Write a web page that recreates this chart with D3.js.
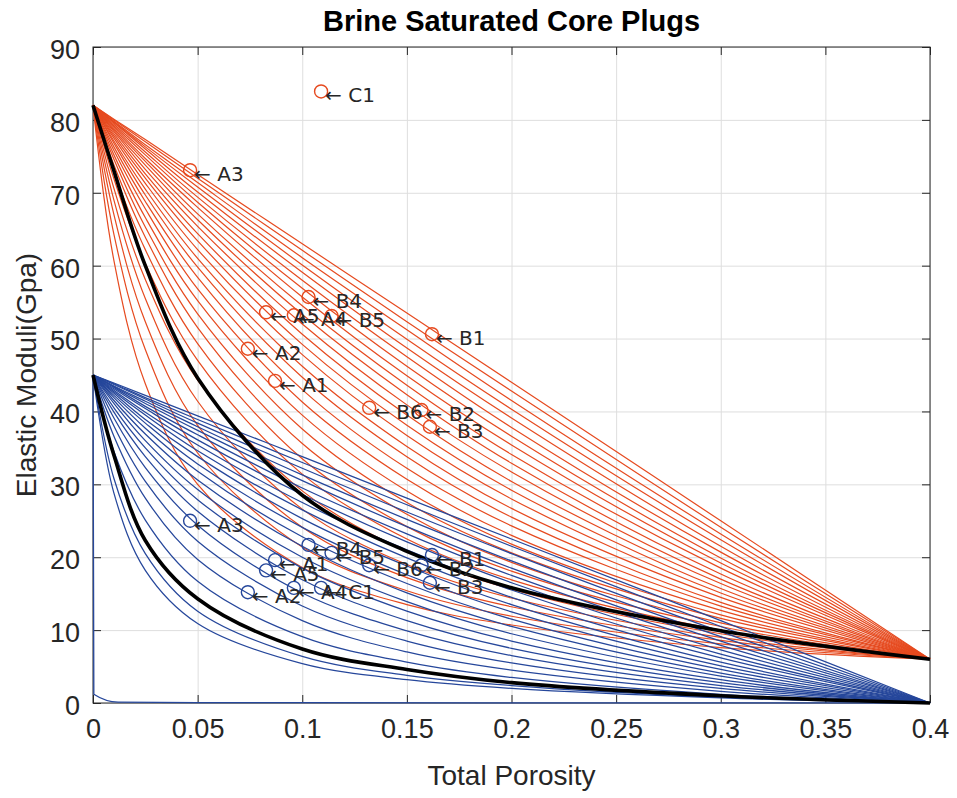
<!DOCTYPE html>
<html>
<head>
<meta charset="utf-8">
<script src="https://cdn.jsdelivr.net/npm/d3@7"></script>
<style>
  body { margin: 0; background: #fff; }
  text { font-family: "Liberation Sans", Arial, Helvetica, sans-serif; }
</style>
</head>
<body>
<div id="chart"></div>
<script>
// porosity grid shared by the model curves
const porosityGrid = [0, 0.01, 0.025, 0.05, 0.1, 0.15, 0.2, 0.3, 0.4];

// bulk modulus model curves (red), values read at porosityGrid
const bulkModelCurves = [
  [82, 80.1, 77.3, 72.5, 63.0, 53.5, 44.0, 25.0, 6],
  [82, 80.0, 77.0, 72.0, 62.1, 52.3, 42.8, 24.1, 6],
  [82, 79.8, 76.6, 71.4, 61.1, 51.2, 41.5, 23.2, 6],
  [82, 79.7, 76.3, 70.8, 60.1, 49.9, 40.3, 22.4, 6],
  [82, 79.6, 76.0, 70.1, 59.1, 48.7, 39.1, 21.5, 6],
  [82, 79.4, 75.6, 69.4, 58.0, 47.5, 37.8, 20.7, 6],
  [82, 79.2, 75.2, 68.7, 56.9, 46.2, 36.6, 19.9, 6],
  [82, 79.0, 74.7, 68.0, 55.7, 44.9, 35.4, 19.2, 6],
  [82, 78.8, 74.3, 67.1, 54.5, 43.6, 34.1, 18.5, 6],
  [82, 78.6, 73.8, 66.3, 53.3, 42.3, 32.9, 17.7, 6],
  [82, 78.4, 73.2, 65.4, 52.0, 40.9, 31.7, 17.0, 6],
  [82, 78.1, 72.6, 64.4, 50.6, 39.5, 30.4, 16.4, 6],
  [82, 77.8, 72.0, 63.4, 49.2, 38.1, 29.2, 15.7, 6],
  [82, 77.5, 71.3, 62.2, 47.8, 36.7, 28.0, 15.1, 6],
  [82, 77.1, 70.5, 61.0, 46.2, 35.2, 26.7, 14.5, 6],
  [82, 76.8, 69.7, 59.8, 44.7, 33.8, 25.5, 13.8, 6],
  [82, 76.3, 68.8, 58.4, 43.0, 32.2, 24.3, 13.3, 6],
  [82, 75.8, 67.8, 56.8, 41.3, 30.7, 23.0, 12.7, 6],
  [82, 75.2, 66.6, 55.2, 39.5, 29.1, 21.8, 12.1, 6],
  [82, 74.6, 65.3, 53.4, 37.6, 27.5, 20.6, 11.6, 6],
  [82, 73.8, 63.9, 51.5, 35.6, 25.9, 19.3, 11.0, 6],
  [82, 72.9, 62.2, 49.3, 33.5, 24.2, 18.1, 10.5, 6],
  [82, 71.9, 60.3, 47.0, 31.4, 22.5, 16.9, 10.0, 6],
  [82, 70.6, 58.1, 44.3, 29.1, 20.8, 15.6, 9.5, 6],
  [82, 69.0, 55.5, 41.4, 26.6, 19.0, 14.4, 9.0, 6],
  [82, 67.0, 52.3, 38.1, 24.1, 17.2, 13.2, 8.6, 6],
  [82, 64.3, 48.5, 34.3, 21.4, 15.4, 11.9, 8.1, 6],
  [82, 60.7, 43.8, 30.0, 18.6, 13.5, 10.7, 7.6, 6]
];

// shear modulus model curves (blue), values read at porosityGrid
const shearModelCurves = [
  [45, 43.9, 42.2, 39.4, 33.8, 28.1, 22.5, 11.3, 0],
  [45, 43.8, 41.9, 38.9, 33.0, 27.2, 21.5, 10.5, 0],
  [45, 43.7, 41.7, 38.4, 32.2, 26.2, 20.5, 9.8, 0],
  [45, 43.5, 41.4, 37.9, 31.3, 25.2, 19.5, 9.1, 0],
  [45, 43.4, 41.1, 37.4, 30.5, 24.2, 18.5, 8.5, 0],
  [45, 43.3, 40.7, 36.8, 29.5, 23.2, 17.5, 7.9, 0],
  [45, 43.1, 40.4, 36.1, 28.6, 22.1, 16.5, 7.3, 0],
  [45, 42.9, 39.9, 35.4, 27.5, 21.0, 15.5, 6.7, 0],
  [45, 42.7, 39.5, 34.6, 26.5, 19.9, 14.5, 6.2, 0],
  [45, 42.5, 38.9, 33.8, 25.3, 18.8, 13.5, 5.6, 0],
  [45, 42.2, 38.4, 32.8, 24.1, 17.6, 12.5, 5.1, 0],
  [45, 41.9, 37.7, 31.8, 22.8, 16.4, 11.5, 4.6, 0],
  [45, 41.5, 36.9, 30.6, 21.5, 15.1, 10.5, 4.1, 0],
  [45, 41.1, 36.0, 29.3, 20.0, 13.9, 9.5, 3.7, 0],
  [45, 40.5, 35.0, 27.9, 18.5, 12.6, 8.5, 3.2, 0],
  [45, 39.9, 33.8, 26.3, 16.9, 11.3, 7.5, 2.8, 0],
  [45, 39.1, 32.3, 24.4, 15.1, 9.9, 6.5, 2.4, 0],
  [45, 38.0, 30.4, 22.2, 13.3, 8.5, 5.5, 2.0, 0],
  [45, 36.6, 28.1, 19.7, 11.3, 7.0, 4.5, 1.6, 0],
  [45, 34.5, 25.1, 16.7, 9.1, 5.6, 3.5, 1.2, 0],
  [45, 30.8, 20.5, 12.6, 6.4, 3.8, 2.4, 0.8, 0],
  [45, 28.8, 18.2, 10.9, 5.4, 3.2, 2.0, 0.7, 0]
];

// softest shear curve that hugs the axes
const shearFloorPorosity = [0, 0.0004, 0.012, 0.05, 0.1, 0.2, 0.3, 0.4];
const shearFloorValues = [45, 1.2, 0.12, 0.06, 0.04, 0.02, 0.01, 0];

// thick black bounds
const bulkBoundValues = [82, 73, 60, 44.6, 28.5, 20.8, 15.8, 9.9, 6];
const shearBoundValues = [45, 34, 22.3, 14.3, 7.4, 4.6, 2.8, 1.0, 0];

// core plug measurements
const sampleNames = ["A1", "A2", "A3", "A4", "A5", "B1", "B2", "B3", "B4", "B5", "B6", "C1"];
const samplePorosity = [0.087, 0.074, 0.0464, 0.096, 0.0827, 0.162, 0.157, 0.161, 0.103, 0.114, 0.132, 0.109];
const sampleBulk = [44.2, 48.6, 73.1, 53.2, 53.6, 50.6, 40.2, 37.9, 55.7, 53.1, 40.5, 83.9];
const sampleShear = [19.6, 15.2, 25.0, 15.8, 18.2, 20.3, 18.9, 16.5, 21.7, 20.6, 18.9, 15.8];

// axes
const xTicks = [0, 0.05, 0.1, 0.15, 0.2, 0.25, 0.3, 0.35, 0.4];
const xTickLabels = ["0", "0.05", "0.1", "0.15", "0.2", "0.25", "0.3", "0.35", "0.4"];
const yTicks = [0, 10, 20, 30, 40, 50, 60, 70, 80, 90];
const yTickLabels = ["0", "10", "20", "30", "40", "50", "60", "70", "80", "90"];

const RED = "#e64a1f";
const BLUE = "#26479b";
const AXIS = "#262626";

// SVG
const margin = { top: 47, right: 27, bottom: 95, left: 93 };
const width = 957 - margin.left - margin.right;
const height = 798 - margin.top - margin.bottom;

const root = d3.select("#chart")
    .append("svg")
    .attr("width", 957)
    .attr("height", 798);

const svg = root.append("g")
    .attr("transform", `translate(${margin.left},${margin.top})`);

const xs = d3.scaleLinear().domain([0, 0.4]).range([0, width]);
const ys = d3.scaleLinear().domain([0, 90]).range([height, 0]);

// GRID
svg.append("g")
    .attr("transform", `translate(0,${height})`)
    .call(d3.axisBottom(xs).tickValues(xTicks).tickSize(-height).tickFormat(""))
    .call(g => g.select(".domain").remove())
    .call(g => g.selectAll("line").attr("stroke", "#dedede"));
svg.append("g")
    .call(d3.axisLeft(ys).tickValues(yTicks).tickSize(-width).tickFormat(""))
    .call(g => g.select(".domain").remove())
    .call(g => g.selectAll("line").attr("stroke", "#dedede"));

// box
svg.append("rect")
    .attr("width", width)
    .attr("height", height)
    .attr("fill", "none")
    .attr("stroke", AXIS)
    .attr("stroke-width", 1);

// ticks (inward) and labels
const styleAxis = g => {
    g.select(".domain").remove();
    g.selectAll("line").attr("stroke", AXIS);
    g.selectAll("text")
        .attr("fill", AXIS)
        .style("font-size", "27px");
};
svg.append("g")
    .attr("transform", `translate(0,${height})`)
    .call(d3.axisBottom(xs).tickValues(xTicks).tickFormat((d, i) => xTickLabels[i]).tickSize(-8).tickPadding(16))
    .call(styleAxis);
svg.append("g")
    .call(d3.axisTop(xs).tickValues(xTicks).tickFormat("").tickSize(-8))
    .call(styleAxis);
svg.append("g")
    .call(d3.axisLeft(ys).tickValues(yTicks).tickFormat((d, i) => yTickLabels[i]).tickSize(-8).tickPadding(13))
    .call(styleAxis)
    .call(g => g.selectAll("text").attr("dy", "0.42em"));
svg.append("g")
    .attr("transform", `translate(${width},0)`)
    .call(d3.axisRight(ys).tickValues(yTicks).tickFormat("").tickSize(-8))
    .call(styleAxis);

// CURVES
const gridLine = d3.line()
    .x((d, i) => xs(porosityGrid[i]))
    .y(d => ys(d))
    .curve(d3.curveCatmullRom.alpha(0.5));

svg.append("g")
    .selectAll("path")
    .data(bulkModelCurves)
    .enter()
    .append("path")
    .attr("d", gridLine)
    .attr("fill", "none")
    .attr("stroke", RED)
    .attr("stroke-width", 1.2);

svg.append("g")
    .selectAll("path")
    .data(shearModelCurves)
    .enter()
    .append("path")
    .attr("d", gridLine)
    .attr("fill", "none")
    .attr("stroke", BLUE)
    .attr("stroke-width", 1.25);

const floorLine = d3.line()
    .x((d, i) => xs(shearFloorPorosity[i]))
    .y(d => ys(d))
    .curve(d3.curveMonotoneX);
svg.append("path")
    .attr("d", floorLine(shearFloorValues))
    .attr("fill", "none")
    .attr("stroke", BLUE)
    .attr("stroke-width", 1.3);

// black bounds
[bulkBoundValues, shearBoundValues].forEach(vals => {
    svg.append("path")
        .attr("d", gridLine(vals))
        .attr("fill", "none")
        .attr("stroke", "#000")
        .attr("stroke-width", 3.6);
});

// MEASURED PLUGS
const drawSamples = (values, color) => {
    const g = svg.append("g");
    g.selectAll("circle")
        .data(values)
        .enter()
        .append("circle")
        .attr("cx", (d, i) => xs(samplePorosity[i]))
        .attr("cy", d => ys(d))
        .attr("r", 6.5)
        .attr("fill", "none")
        .attr("stroke", color)
        .attr("stroke-width", 1.4);
    g.selectAll("text")
        .data(values)
        .enter()
        .append("text")
        .attr("x", (d, i) => xs(samplePorosity[i]) + 4)
        .attr("y", d => ys(d) + 4)
        .attr("dominant-baseline", "central")
        .attr("fill", AXIS)
        .style("font-family", "'DejaVu Sans', sans-serif")
        .style("font-size", "20px")
        .text((d, i) => "\u2190 " + sampleNames[i]);
};
drawSamples(sampleBulk, RED);
drawSamples(sampleShear, BLUE);

// TITLES
root.append("text")
    .attr("x", margin.left + width / 2)
    .attr("y", 31)
    .attr("text-anchor", "middle")
    .style("font-size", "29px")
    .style("font-weight", "bold")
    .attr("fill", "#000")
    .text("Brine Saturated Core Plugs");

root.append("text")
    .attr("x", margin.left + width / 2)
    .attr("y", 785)
    .attr("text-anchor", "middle")
    .style("font-size", "28px")
    .attr("fill", AXIS)
    .text("Total Porosity");

root.append("text")
    .attr("transform", `translate(36,${margin.top + height / 2}) rotate(-90)`)
    .attr("text-anchor", "middle")
    .style("font-size", "28px")
    .attr("fill", AXIS)
    .text("Elastic Moduli(Gpa)");
</script>
</body>
</html>
